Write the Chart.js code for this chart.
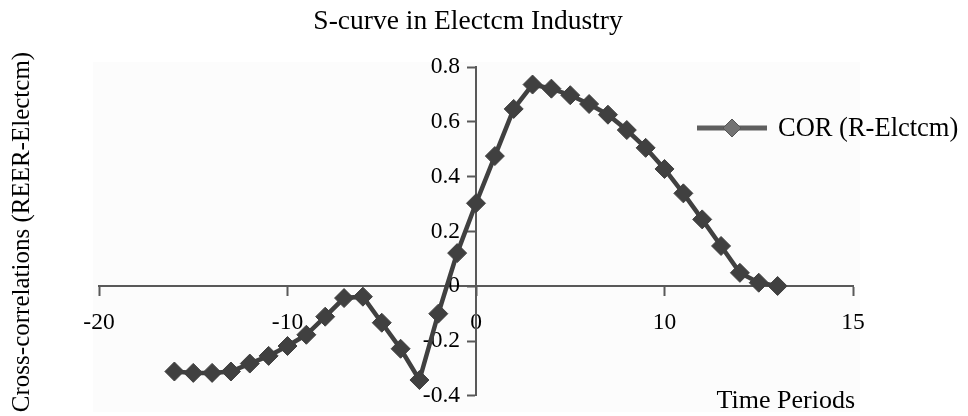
<!DOCTYPE html>
<html>
<head>
<meta charset="utf-8">
<script src="https://cdn.jsdelivr.net/npm/chart.js@4.4.0/dist/chart.umd.min.js"></script>
<style>
html,body{margin:0;padding:0;background:#fff;}
#wrap{width:968px;height:416px;position:relative;}
</style>
</head>
<body>
<div id="wrap"><canvas id="c" width="968" height="416"></canvas></div>
<script>
const chartTitle = 'S-curve in Electcm Industry';
const yAxisTitle = 'Cross-correlations (REER-Electcm)';
const xAxisTitle = 'Time Periods';
const seriesName = 'COR (R-Elctcm)';

const lags = [-16,-15,-14,-13,-12,-11,-10,-9,-8,-7,-6,-5,-4,-3,-2,-1,0,1,2,3,4,5,6,7,8,9,10,11,12,13,14,15,16];
const correlations = [-0.311,-0.316,-0.316,-0.311,-0.282,-0.254,-0.218,-0.177,-0.111,-0.043,-0.038,-0.133,-0.228,-0.342,-0.100,0.121,
  0.303,0.475,0.647,0.736,0.721,0.697,0.665,0.626,0.570,0.505,0.428,0.339,0.244,0.147,0.049,0.013,0.001];

const xTickLabels = ['-20','-10','0','10','15'];
const yTickLabels = ['-0.4','-0.2','0','0.2','0.4','0.6','0.8'];

const FONT = 'Liberation Serif';
const AXIS_COLOR = '#595959';
const LINE_COLOR = '#404040';
const Y_LABEL_SHIFT = 16;

const decorPlugin = {
  id: 'decor',
  beforeDraw(chart) {
    const c = chart.ctx;
    c.save();
    c.fillStyle = '#fcfcfc';
    c.fillRect(93, 62, 767, 350);
    c.restore();
  },
  afterDraw(chart) {
    const c = chart.ctx;
    c.save();
    c.fillStyle = '#000';
    c.font = '27.5px "' + FONT + '"';
    c.textAlign = 'center';
    c.textBaseline = 'middle';
    c.fillText(chartTitle, 468, 22);
    c.font = '26px "' + FONT + '"';
    c.textAlign = 'right';
    c.fillText(xAxisTitle, 855, 401);
    c.save();
    c.translate(22, 232);
    c.rotate(-Math.PI / 2);
    c.font = '25px "' + FONT + '"';
    c.textAlign = 'center';
    c.fillText(yAxisTitle, 0, 0);
    c.restore();
    const ds = chart.data.datasets[0];
    const ly = 128;
    c.strokeStyle = '#5f5f5f';
    c.lineWidth = 5;
    c.beginPath();
    c.moveTo(697, ly);
    c.lineTo(767, ly);
    c.stroke();
    c.fillStyle = '#737373';
    c.strokeStyle = '#555555';
    c.lineWidth = 1;
    c.beginPath();
    c.moveTo(732, ly - 9);
    c.lineTo(741, ly);
    c.lineTo(732, ly + 9);
    c.lineTo(723, ly);
    c.closePath();
    c.fill();
    c.stroke();
    c.fillStyle = '#000';
    c.font = '26.5px "' + FONT + '"';
    c.textAlign = 'left';
    c.fillText(ds.label, 778, ly + 1);
    c.restore();
  }
};

new Chart(document.getElementById('c').getContext('2d'), {
  type: 'line',
  data: {
    datasets: [{
      label: seriesName,
      data: lags.map((x, i) => ({ x: x, y: correlations[i] })),
      borderColor: LINE_COLOR,
      backgroundColor: LINE_COLOR,
      borderWidth: 4.5,
      pointStyle: 'rectRot',
      pointRadius: 9.5,
      pointBorderWidth: 1,
      pointBorderColor: LINE_COLOR,
      pointBackgroundColor: LINE_COLOR,
      tension: 0,
      fill: false
    }]
  },
  options: {
    responsive: false,
    animation: false,
    layout: { padding: { left: 99, right: 115, top: 67, bottom: 12 } },
    plugins: { legend: { display: false }, title: { display: false }, tooltip: { enabled: false } },
    scales: {
      x: {
        type: 'linear', min: -20, max: 20, position: { y: 0 },
        afterFit(s) { s.height = 0; },
        ticks: { stepSize: 10, autoSkip: false, maxRotation: 0, padding: 13,
          callback: (v, i) => xTickLabels[i],
          font: { family: FONT, size: 23.5 }, color: '#000' },
        grid: { drawOnChartArea: false, drawTicks: true, tickLength: 9, tickColor: AXIS_COLOR, tickWidth: 2 },
        border: { display: true, color: AXIS_COLOR, width: 2 }
      },
      y: {
        type: 'linear', min: -0.4, max: 0.8, position: { x: 0 },
        afterFit(s) { s.width = 0; },
        afterUpdate(s) {
          if (s._shiftPatched) return;
          const orig = s._computeLabelItems;
          s._computeLabelItems = function (ca) {
            const items = orig.call(this, ca);
            items.forEach(it => {
              if (it && it.options && Array.isArray(it.options.translation)) {
                it.options.translation[0] -= Y_LABEL_SHIFT;
              }
            });
            return items;
          };
          s._shiftPatched = true;
        },
        ticks: { stepSize: 0.2, autoSkip: false, padding: 6,
          callback: (v, i) => yTickLabels[i],
          font: { family: FONT, size: 23.5 }, color: '#000' },
        grid: { drawOnChartArea: false, drawTicks: true, tickLength: 8, tickColor: AXIS_COLOR, tickWidth: 2 },
        border: { display: true, color: AXIS_COLOR, width: 2 }
      }
    }
  },
  plugins: [decorPlugin]
});
</script>
</body>
</html>
